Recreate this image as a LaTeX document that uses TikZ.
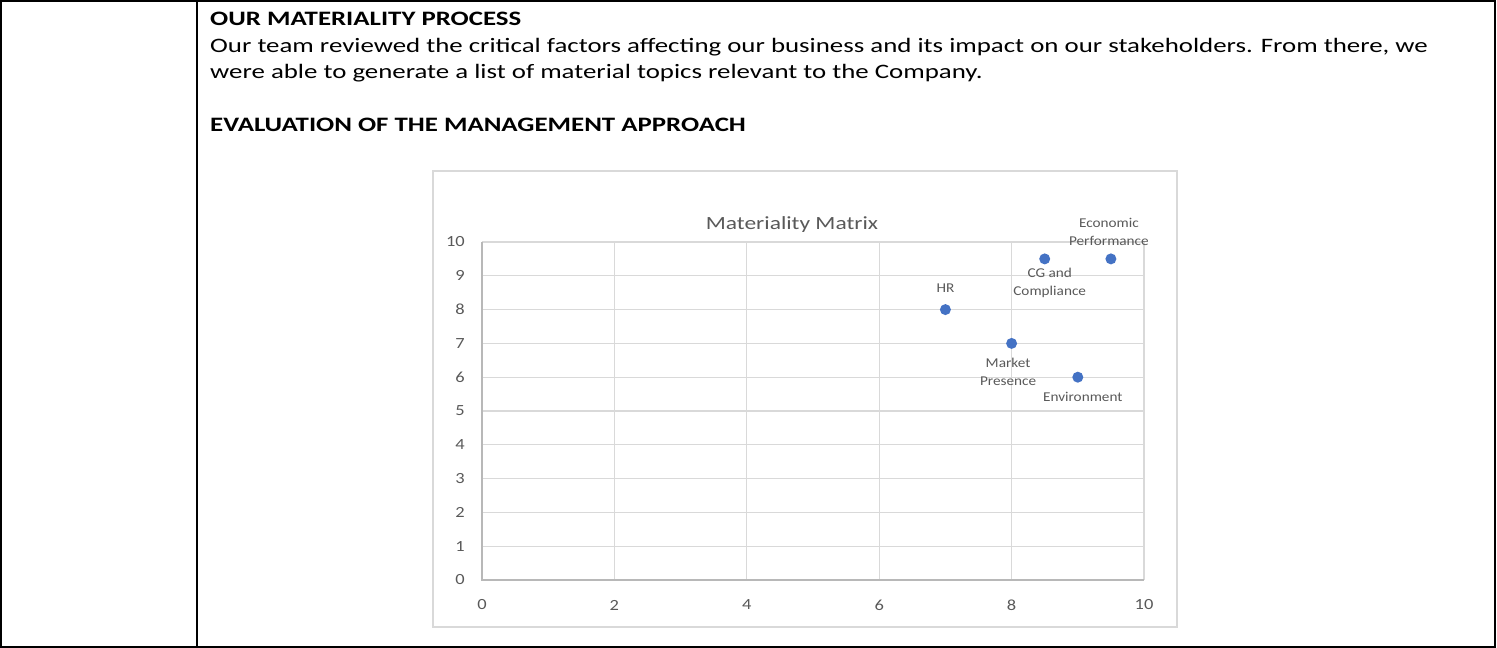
\documentclass[tikz,border=0pt]{standalone}
\usepackage{fontspec}
\setmainfont{Carlito}
\newfontfamily\bodyf{Carlito}[FakeStretch=1.31]
\newfontfamily\titlef{Carlito}[FakeStretch=1.26]
\newfontfamily\tickf{Carlito}[FakeStretch=1.19]
\newfontfamily\labf{Carlito}[FakeStretch=1.13]
\usetikzlibrary{positioning}
\definecolor{gridc}{HTML}{D9D9D9}
\definecolor{txtc}{HTML}{595959}
\definecolor{ptc}{HTML}{4472C4}
\begin{document}
\begin{tikzpicture}[x=1pt,y=1pt,
  body/.style={anchor=base west, inner sep=0pt, font=\bodyf\fontsize{20.5}{27}\selectfont},
  head/.style={anchor=base west, inner sep=0pt, font=\bodyf\fontsize{20.5}{27}\selectfont\bfseries},
  tick/.style={inner sep=0pt, text=txtc, font=\tickf\fontsize{15.5}{18}\selectfont},
  dlabel/.style={inner sep=0pt, text=txtc, align=center, font=\labf\fontsize{13.5}{18}\selectfont},
  dot/.style={circle, fill=ptc, inner sep=0pt, minimum size=11pt},
  gridline/.style={draw=gridc, line width=1.3pt}]
\useasboundingbox (0,0) rectangle (1497,648);
% table
\draw[line width=2.5pt] (1,1) rectangle (1495,647);
\draw[line width=2.5pt] (197,1) -- (197,647);
% text
\node[head] (h1) at (210,622) {OUR MATERIALITY PROCESS};
\node[body] (t1) at (210,595.3) {Our team reviewed the critical factors affecting our business and its impact on our stakeholders. From there, we};
\node[body] (t2) at (210,569) {were able to generate a list of material topics relevant to the Company.};
\node[head] (h2) at (210,516.3) {EVALUATION OF THE MANAGEMENT APPROACH};
% chart frame
\draw[gridc, line width=1.5pt] (433,21) rectangle (1177,477);
\node[text=txtc, inner sep=0pt, font=\titlef\fontsize{18.6}{22}\selectfont] (title) at (792,423) {Materiality Matrix};
\begin{scope}[xshift=482pt, yshift=68pt, x=66.2pt, y=33.8pt]
  \foreach \i in {1,...,10} \draw[gridline] (0,\i) -- (10,\i);
  \foreach \i in {2,4,...,10} \draw[gridline] (\i,0) -- (\i,10);
  \draw[draw=gridc!85!black, line width=1.3pt] (0,10) -- (0,0) -- (10,0);
  \foreach \i in {0,...,10} \node[tick, anchor=east] (yl\i) at ([xshift=-17pt]0,\i) {\i};
  \foreach \i in {0,2,...,10} \node[tick] (xl\i) at ([yshift=-25pt]\i,0) {\i};
  \node[dot] (ep) at (9.5,9.5) {};
  \node[dot] (cg) at (8.5,9.5) {};
  \node[dot] (hr) at (7,8) {};
  \node[dot] (mp) at (8,7) {};
  \node[dot] (en) at (9,6) {};
\end{scope}
\node[dlabel, above=7pt of ep, xshift=-2pt] (epl) {Economic\\Performance};
\node[dlabel, below=3.5pt of cg, xshift=5pt] (cgl) {CG and\\Compliance};
\node[dlabel, above=11pt of hr] (hrl) {HR};
\node[dlabel, below=8.5pt of mp, xshift=-3.5pt] (mpl) {Market\\Presence};
\node[dlabel, below=9.5pt of en, xshift=5pt] (enl) {Environment};
\end{tikzpicture}
\end{document}
